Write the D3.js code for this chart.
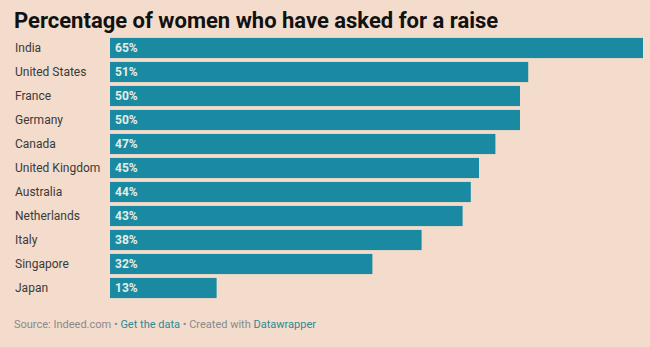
<!DOCTYPE html>
<meta charset="utf-8">
<style>
  body { margin: 0; background: #f3dccb; }
  svg { display: block; font-family: Roboto, "Noto Sans", sans-serif; }
  .title { font-size: 22px; font-weight: 700; fill: #111; }
  .country { font-size: 12px; fill: #3a3a3a; }
  .value { font-size: 12px; font-weight: 700; fill: #e4eee6; }
  .footer { font-size: 11px; fill: #8a8a8a; }
  .footer .link { fill: #2b8a98; }
</style>
<script src="https://d3js.org/d3.v7.min.js"></script>
<body>
<script>

const width = 650;
const height = 347;

const countries = ["India", "United States", "France", "Germany", "Canada", "United Kingdom",
                   "Australia", "Netherlands", "Italy", "Singapore", "Japan"];
const shares = [65, 51, 50, 50, 47, 45, 44, 43, 38, 32, 13];

const data = countries.map((c, i) => ({country: c, value: shares[i]}));

const svg = d3.select("body")
              .append("svg")
              .attr("width", width)
              .attr("height", height);

svg.append("rect")
   .attr("width", width)
   .attr("height", height)
   .attr("fill", "#f3dccb");

svg.append("text")
   .attr("class", "title")
   .attr("x", 14)
   .attr("y", 28)
   .text("Percentage of women who have asked for a raise");

const xScale = d3.scaleLinear()
                 .domain([0, 65])
                 .range([110, 643]);

const yScale = d3.scaleBand()
                 .domain(countries)
                 .range([36, 300])
                 .paddingInner(0.16)
                 .paddingOuter(0.08);

const rows = svg.append("g")
                .selectAll("g")
                .data(data)
                .enter().append("g")
                .attr("transform", d => `translate(0,${yScale(d.country)})`);

rows.append("rect")
    .attr("x", xScale(0))
    .attr("width", d => xScale(d.value) - xScale(0))
    .attr("height", yScale.bandwidth())
    .attr("fill", "#1a8aa2");

rows.append("text")
    .attr("class", "country")
    .attr("x", 15)
    .attr("y", yScale.bandwidth() / 2)
    .attr("dy", "0.35em")
    .text(d => d.country);

rows.append("text")
    .attr("class", "value")
    .attr("x", xScale(0) + 5)
    .attr("y", yScale.bandwidth() / 2)
    .attr("dy", "0.35em")
    .text(d => d.value + "%");

const footer = svg.append("text")
                  .attr("class", "footer")
                  .attr("x", 14)
                  .attr("y", 328);
footer.append("tspan").text("Source: Indeed.com • ");
footer.append("tspan").attr("class", "link").text("Get the data");
footer.append("tspan").text(" • Created with ");
footer.append("tspan").attr("class", "link").text("Datawrapper");

</script>
